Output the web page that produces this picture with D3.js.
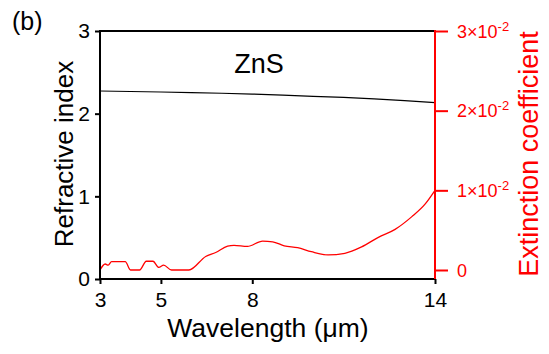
<!DOCTYPE html>
<html>
<head>
<meta charset="utf-8">
<script src="https://d3js.org/d3.v7.min.js"></script>
<style>
  body { margin: 0; background: #fff; }
  svg text { font-family: "Liberation Sans", Arial, sans-serif; }
  .domain { display: none; }
</style>
</head>
<body>
<svg width="549" height="354"></svg>
<script>
// refractive index n (black)
const nWl = [3, 4, 5, 6, 7, 8, 9, 10, 11, 12, 13, 14];
const nVal = [2.274, 2.268, 2.262, 2.255, 2.247, 2.237, 2.224, 2.210, 2.196, 2.180, 2.158, 2.133];

// extinction coefficient k (red)
const kWl = [3.0, 3.17, 3.27, 3.38, 3.83, 4.0, 4.30, 4.52, 4.74, 4.93, 5.09, 5.35, 5.92, 6.47, 6.80, 7.19, 7.40, 7.84, 8.34, 8.67, 9.05, 9.49, 9.94, 10.49, 11.04, 11.59, 12.14, 12.69, 13.24, 13.68, 14.0];
const kVal = [0.0, 0.00075, 0.0006, 0.00104, 0.00104, 0.0, 0.0, 0.0011, 0.0011, 0.00033, 0.0006, 0.0, 0.0, 0.0017, 0.0022, 0.003, 0.0031, 0.00296, 0.00363, 0.00354, 0.00304, 0.0028, 0.0023, 0.0019, 0.0021, 0.0029, 0.0041, 0.0051, 0.0067, 0.0083, 0.01];

const xTicks = [3, 5, 8, 14];
const yTicks = [0, 1, 2, 3];
const kTicks = [0, 0.01, 0.02, 0.03];
const kTickMant = ['0', '1', '2', '3'];

const plotL = 100, plotR = 435, plotT = 31, plotB = 279;
const red = '#ff0000';

const svg = d3.select('svg');

const x = d3.scaleLinear().domain([3, 14]).range([plotL, plotR]);
const y = d3.scaleLinear().domain([0, 3]).range([plotB, plotT]);
const yk = d3.scaleLinear().domain([-0.00113, 0.03]).range([plotB, plotT]);

// data lines
const nLine = d3.line().x((d, i) => x(nWl[i])).y(d => y(d));
svg.append('path')
  .attr('fill', 'none')
  .attr('stroke', '#000')
  .attr('stroke-width', 1.2)
  .attr('d', nLine(nVal));

const kLine = d3.line().x((d, i) => x(kWl[i])).y(d => yk(d)).curve(d3.curveMonotoneX);
svg.append('path')
  .attr('fill', 'none')
  .attr('stroke', red)
  .attr('stroke-width', 1.3)
  .attr('d', kLine(kVal));

// frame: top line
svg.append('line')
  .attr('x1', plotL).attr('x2', plotR)
  .attr('y1', plotT).attr('y2', plotT)
  .attr('stroke', '#000').attr('stroke-width', 2);

// bottom axis
const xAxisG = svg.append('g')
  .attr('transform', `translate(0,${plotB})`)
  .call(d3.axisBottom(x).tickValues(xTicks).tickSize(5).tickPadding(8));
xAxisG.append('line')
  .attr('x1', plotL - 1).attr('x2', plotR + 1)
  .attr('stroke', '#000').attr('stroke-width', 2);
xAxisG.selectAll('.tick line').attr('stroke', '#000').attr('stroke-width', 2);
xAxisG.selectAll('.tick text').attr('fill', '#000').style('font-size', '21px');

// left axis
const yAxisG = svg.append('g')
  .attr('transform', `translate(${plotL},0)`)
  .call(d3.axisLeft(y).tickValues(yTicks).tickFormat(d3.format('d')).tickSize(5).tickPadding(5));
yAxisG.append('line')
  .attr('y1', plotT - 1).attr('y2', plotB + 1)
  .attr('stroke', '#000').attr('stroke-width', 2);
yAxisG.selectAll('.tick line').attr('stroke', '#000').attr('stroke-width', 2);
yAxisG.selectAll('.tick text').attr('fill', '#000').style('font-size', '21px');

// right axis (red)
const kAxisG = svg.append('g')
  .attr('transform', `translate(${plotR},0)`)
  .call(d3.axisRight(yk).tickValues(kTicks).tickSize(13).tickFormat(''));
kAxisG.append('line')
  .attr('y1', plotT - 1).attr('y2', plotB)
  .attr('stroke', red).attr('stroke-width', 2);
kAxisG.selectAll('.tick line').attr('stroke', red).attr('stroke-width', 2);
kAxisG.selectAll('.tick').each(function(d, i) {
  const t = d3.select(this).append('text')
    .attr('x', 22)
    .attr('dy', '0.35em')
    .attr('fill', red)
    .attr('text-anchor', 'start')
    .style('font-size', '18px');
  if (d === 0) {
    t.text('0');
  } else {
    t.append('tspan').text(kTickMant[i] + '×10');
    t.append('tspan').attr('dy', '-0.55em').style('font-size', '13px').text('-2');
  }
});

// labels
svg.append('text')
  .attr('x', 12).attr('y', 30)
  .style('font-size', '25px')
  .text('(b)');

svg.append('text')
  .attr('x', 259).attr('y', 73)
  .attr('text-anchor', 'middle')
  .style('font-size', '27px')
  .text('ZnS');

svg.append('text')
  .attr('x', 268).attr('y', 336.5)
  .attr('text-anchor', 'middle')
  .style('font-size', '26.5px')
  .text('Wavelength (μm)');

svg.append('text')
  .attr('transform', 'translate(73,154) rotate(-90)')
  .attr('text-anchor', 'middle')
  .style('font-size', '26px')
  .text('Refractive index');

svg.append('text')
  .attr('transform', 'translate(538,154) rotate(-90)')
  .attr('text-anchor', 'middle')
  .attr('fill', red)
  .style('font-size', '27px')
  .text('Extinction coefficient');
</script>
</body>
</html>
